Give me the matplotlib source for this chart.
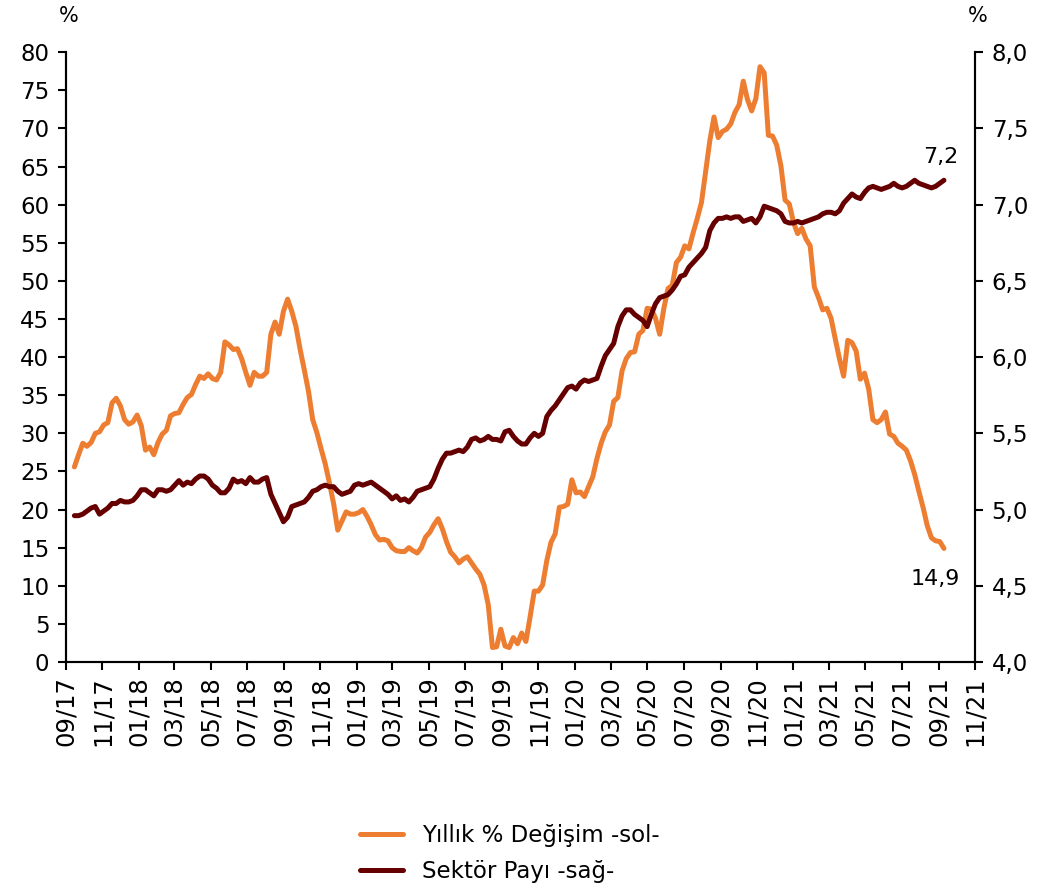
import numpy as np
import pandas as pd
import matplotlib
matplotlib.use("Agg")
import matplotlib.pyplot as plt
import matplotlib.dates as mdates
from matplotlib.ticker import FuncFormatter, MultipleLocator

plt.rcParams['font.family'] = ['DejaVu Sans']

# weekly observations, Sep 2017 - Sep 2021
dates = pd.date_range('2017-09-15', periods=209, freq='7D')

annual_change = [
    25.6, 27.2, 28.7, 28.3, 28.8, 30.0, 30.2, 31.1, 31.4, 34.0,
    34.6, 33.6, 31.8, 31.2, 31.5, 32.4, 31.0, 27.8, 28.2, 27.2,
    28.8, 29.9, 30.4, 32.3, 32.6, 32.7, 33.8, 34.7, 35.1, 36.4,
    37.5, 37.2, 37.8, 37.2, 37.0, 38.0, 42.0, 41.6, 41.0, 41.1,
    39.8, 38.0, 36.3, 38.0, 37.5, 37.5, 38.0, 43.0, 44.6, 43.0,
    46.0, 47.6, 46.0, 44.0, 41.0, 38.3, 35.5, 31.8, 30.1, 28.0,
    26.0, 23.5, 20.8, 17.3, 18.5, 19.7, 19.4, 19.4, 19.6, 20.0,
    19.1, 18.0, 16.7, 16.0, 16.1, 15.9, 15.0, 14.6, 14.5, 14.5,
    15.0, 14.6, 14.3, 15.0, 16.4, 17.0, 18.0, 18.8, 17.5, 15.8,
    14.4, 13.8, 13.0, 13.5, 13.8, 13.0, 12.2, 11.5, 10.1, 7.5,
    1.9, 2.0, 4.3, 2.1, 1.9, 3.2, 2.4, 3.8, 2.7, 5.9,
    9.3, 9.3, 10.1, 13.3, 15.7, 16.8, 20.3, 20.4, 20.7, 23.9,
    22.2, 22.3, 21.7, 23.0, 24.3, 26.7, 28.7, 30.2, 31.1, 34.2,
    34.7, 38.2, 39.8, 40.6, 40.7, 43.0, 43.5, 46.4, 46.3, 45.1,
    43.0, 46.4, 49.0, 49.4, 52.4, 53.1, 54.6, 54.2, 56.3, 58.2,
    60.3, 64.3, 68.4, 71.5, 68.8, 69.6, 69.9, 70.6, 72.1, 73.1,
    76.2, 73.8, 72.3, 73.9, 78.1, 77.3, 69.1, 69.0, 67.8, 65.1,
    60.6, 60.1, 57.7, 56.2, 56.9, 55.5, 54.6, 49.2, 47.8, 46.2,
    46.4, 45.1, 42.4, 39.8, 37.5, 42.2, 41.9, 40.8, 37.1, 37.9,
    35.8, 31.8, 31.4, 31.8, 32.8, 29.9, 29.6, 28.7, 28.3, 27.8,
    26.4, 24.6, 22.4, 20.3, 17.9, 16.3, 15.9, 15.8, 14.9,
]

sector_share = [
    4.96, 4.96, 4.97, 4.99, 5.01, 5.02, 4.97, 4.99, 5.01, 5.04,
    5.04, 5.06, 5.05, 5.05, 5.06, 5.09, 5.13, 5.13, 5.11, 5.09,
    5.13, 5.13, 5.12, 5.13, 5.16, 5.19, 5.16, 5.18, 5.17, 5.20,
    5.22, 5.22, 5.20, 5.16, 5.14, 5.11, 5.11, 5.14, 5.20, 5.18,
    5.19, 5.17, 5.21, 5.18, 5.18, 5.20, 5.21, 5.10, 5.04, 4.98,
    4.92, 4.95, 5.02, 5.03, 5.04, 5.05, 5.08, 5.12, 5.13, 5.15,
    5.16, 5.15, 5.15, 5.12, 5.10, 5.11, 5.12, 5.16, 5.17, 5.16,
    5.17, 5.18, 5.16, 5.14, 5.12, 5.10, 5.07, 5.09, 5.06, 5.07,
    5.05, 5.08, 5.12, 5.13, 5.14, 5.15, 5.20, 5.27, 5.33, 5.37,
    5.37, 5.38, 5.39, 5.38, 5.41, 5.46, 5.47, 5.45, 5.46, 5.48,
    5.46, 5.46, 5.45, 5.51, 5.52, 5.48, 5.45, 5.43, 5.43, 5.47,
    5.50, 5.48, 5.50, 5.61, 5.65, 5.68, 5.72, 5.76, 5.80, 5.81,
    5.79, 5.83, 5.85, 5.84, 5.85, 5.86, 5.94, 6.01, 6.05, 6.09,
    6.20, 6.27, 6.31, 6.31, 6.28, 6.26, 6.24, 6.20, 6.28, 6.35,
    6.39, 6.40, 6.41, 6.44, 6.48, 6.53, 6.54, 6.59, 6.62, 6.65,
    6.68, 6.72, 6.83, 6.88, 6.91, 6.91, 6.92, 6.91, 6.92, 6.92,
    6.89, 6.90, 6.91, 6.88, 6.92, 6.99, 6.98, 6.97, 6.96, 6.94,
    6.89, 6.88, 6.88, 6.89, 6.88, 6.89, 6.90, 6.91, 6.92, 6.94,
    6.95, 6.95, 6.94, 6.96, 7.01, 7.04, 7.07, 7.05, 7.04, 7.08,
    7.11, 7.12, 7.11, 7.10, 7.11, 7.12, 7.14, 7.12, 7.11, 7.12,
    7.14, 7.16, 7.14, 7.13, 7.12, 7.11, 7.12, 7.14, 7.16,
]

label_change = "Yıllık % Değişim -sol-"
label_share = "Sektör Payı -sağ-"
orange = "#ED7D31"
maroon = "#660000"

fig = plt.figure(figsize=(10.4, 8.91), dpi=100)
ax = fig.add_axes([0.0635, 0.257, 0.874, 0.6844])
ax2 = ax.twinx()

l1, = ax.plot(dates, annual_change, color=orange, lw=3.6, solid_capstyle='round')
l2, = ax2.plot(dates, sector_share, color=maroon, lw=3.6, solid_capstyle='round')

ax.set_xlim(pd.Timestamp('2017-09-01'), pd.Timestamp('2021-11-01'))
ax.set_ylim(0, 80)
ax2.set_ylim(4.0, 8.0)
ax.yaxis.set_major_locator(MultipleLocator(5))
ax2.yaxis.set_major_locator(MultipleLocator(0.5))
ax2.yaxis.set_major_formatter(FuncFormatter(lambda v, p: f"{v:.1f}".replace('.', ',')))

ax.xaxis.set_major_locator(mdates.MonthLocator(bymonth=[1, 3, 5, 7, 9, 11]))
ax.xaxis.set_major_formatter(mdates.DateFormatter('%m/%y'))
for lab in ax.get_xticklabels():
    lab.set_rotation(90)

for a in (ax, ax2):
    a.spines['top'].set_visible(False)
    for s in a.spines.values():
        s.set_linewidth(1.5)
    a.tick_params(direction='out', length=6, width=1.5, labelsize=16.5, pad=6)
ax.tick_params(axis='x', labelsize=17.5, pad=4)

ax2.annotate("7,2", (dates[-1], sector_share[-1]), xytext=(-2, 9.5),
             textcoords='offset points', fontsize=16, ha='center', va='bottom')
ax.annotate("14,9", (dates[-1], annual_change[-1]), xytext=(-6, -14.5),
            textcoords='offset points', fontsize=16, ha='center', va='top')

fig.text(0.066, 0.982, "%", fontsize=15, ha='center', va='center')
fig.text(0.940, 0.982, "%", fontsize=15, ha='center', va='center')

fig.legend([l1, l2], [label_change, label_share], loc='center',
           bbox_to_anchor=(0.49, 0.042), frameon=False, fontsize=16.5,
           handlelength=1.9, labelspacing=0.6)

fig.savefig("out.png", dpi=100)
